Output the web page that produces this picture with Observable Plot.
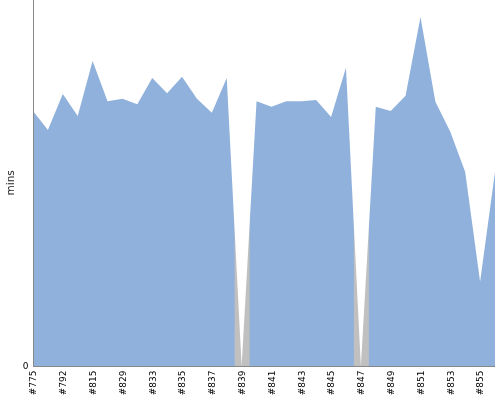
<!DOCTYPE html>
<html>
<head>
<meta charset="utf-8">
<script src="https://cdn.jsdelivr.net/npm/d3@7"></script>
<script src="https://cdn.jsdelivr.net/npm/@observablehq/plot@0.6"></script>
<style>
  body { margin: 0; background: #fff; }
</style>
</head>
<body>
<div id="chart"></div>
<script>
const categories = ["#775","#784","#792","#803","#815","#822","#829","#831","#833","#834","#835","#836","#837","#838","#839","#840","#841","#842","#843","#844","#845","#846","#847","#848","#849","#850","#851","#852","#853","#854","#855","#856"];
const minutes = [41.8,38.7,44.6,41.0,50.0,43.4,43.8,42.9,47.2,44.7,47.4,43.8,41.5,47.2,0,43.4,42.5,43.4,43.4,43.6,40.8,48.9,0,42.5,41.8,44.3,57.2,43.3,38.4,31.8,13.8,31.8];
const tickLabels = ["#775","#792","#815","#829","#833","#835","#837","#839","#841","#843","#845","#847","#849","#851","#853","#855"];
const yTicks = [0];
const yLabel = "mins";

const data = categories.map((c, i) => ({idx: i, run: c, mins: minutes[i]}));
const missing = data.filter(d => d.mins === 0);
const tickIdx = tickLabels.map(t => categories.indexOf(t));

const chart = Plot.plot({
  width: 500,
  height: 400,
  marginTop: 0,
  marginLeft: 33,
  marginRight: 5,
  marginBottom: 34,
  style: {fontFamily: "DejaVu Sans", fontSize: "9px", background: "#fff"},
  x: {type: "linear", domain: [0, categories.length - 1], ticks: tickIdx, tickFormat: i => categories[i], tickRotate: -90, tickSize: 0, tickPadding: 4, label: null},
  y: {domain: [0, 60], ticks: yTicks, tickSize: 0, tickPadding: 5, label: null},
  marks: [
    Plot.areaY(data, {x: "idx", y: "mins", fill: "#8fb1db"}),
    Plot.ruleX(missing, {x: "idx", stroke: "#c4c4c4", strokeWidth: 15, mixBlendMode: "saturation"}),
    Plot.ruleX(missing, {x: "idx", stroke: "#fff", strokeOpacity: 0.25, strokeWidth: 15}),
    Plot.ruleY([0], {stroke: "#888"}),
    Plot.ruleX([0], {stroke: "#888"}),
    Plot.text([yLabel], {frameAnchor: "left", dx: -23, dy: 12, rotate: -90, fontSize: 10.5, fill: "#222"})
  ]
});
document.getElementById("chart").appendChild(chart);
</script>
</body>
</html>
